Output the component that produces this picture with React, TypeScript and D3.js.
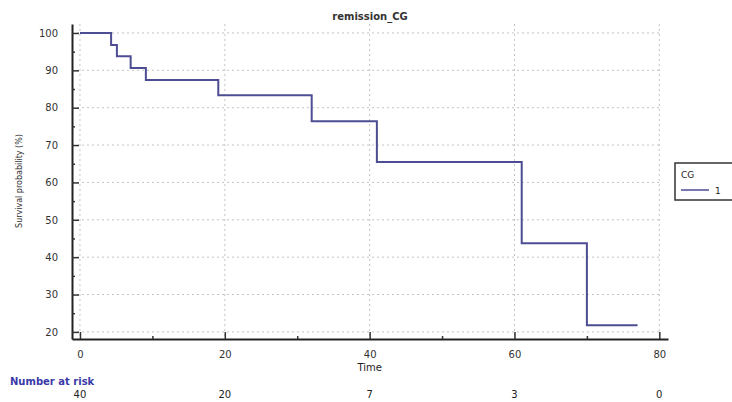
import React, { useEffect, useRef } from 'react';
import * as d3 from 'd3';

// survival step points (time, survival %)
const stepTimes = [0, 4.3, 5.1, 7.0, 9.1, 19.1, 32, 41, 61, 70];
const stepSurvival = [100, 96.8, 93.8, 90.6, 87.4, 83.3, 76.4, 65.5, 43.7, 21.8];
const lastTime = 77;

const xTicks = [0, 20, 40, 60, 80];
const yTicks = [20, 30, 40, 50, 60, 70, 80, 90, 100];
const atRisk = [40, 20, 7, 3, 0];

const App = () => {
  const ref = useRef<SVGSVGElement>(null);

  useEffect(() => {
    const svg = d3.select(ref.current);
    svg.selectAll('*').remove();

    const width = 732;
    const height = 402;
    const font = 'DejaVu Sans, sans-serif';

    const x = d3.scaleLinear().domain([-1.1, 81.2]).range([72, 668]);
    const y = d3.scaleLinear().domain([18.1, 102.4]).range([339, 24]);

    svg.append('rect').attr('width', width).attr('height', height).attr('fill', 'white');

    // grid
    const grid = svg.append('g').attr('stroke', '#c4c4c4').attr('stroke-dasharray', '2,3').attr('stroke-width', 1);
    grid.selectAll('.gx')
      .data(xTicks)
      .enter()
      .append('line')
      .attr('x1', (d) => x(d)).attr('x2', (d) => x(d))
      .attr('y1', y(102.4)).attr('y2', y(18.1));
    grid.selectAll('.gy')
      .data(yTicks)
      .enter()
      .append('line')
      .attr('x1', x(-1.1)).attr('x2', x(80))
      .attr('y1', (d) => y(d)).attr('y2', (d) => y(d));

    // x axis
    const xAxis = d3.axisBottom(x).tickValues(xTicks).tickSizeInner(-7).tickSizeOuter(0).tickPadding(12);
    const gx = svg.append('g').attr('transform', `translate(0,${y(18.1)})`).call(xAxis);
    const xMinor = d3.axisBottom(x).tickValues([10, 30, 50, 70]).tickSize(-3).tickFormat(() => '');
    svg.append('g').attr('transform', `translate(0,${y(18.1)})`).call(xMinor).select('.domain').remove();

    // y axis
    const yAxis = d3.axisLeft(y).tickValues(yTicks).tickSizeInner(-7).tickSizeOuter(0).tickPadding(14);
    const gy = svg.append('g').attr('transform', `translate(${x(-1.1)},0)`).call(yAxis);
    const yMinor = d3.axisLeft(y).tickValues([25, 35, 45, 55, 65, 75, 85, 95]).tickSize(-3).tickFormat(() => '');
    svg.append('g').attr('transform', `translate(${x(-1.1)},0)`).call(yMinor).select('.domain').remove();

    [gx, gy].forEach((g) => {
      g.select('.domain').attr('stroke', '#222').attr('stroke-width', 2);
      g.selectAll('.tick text').style('font-family', font).style('font-size', '10px').attr('fill', '#333');
    });
    svg.selectAll('.tick line').attr('stroke', '#333').attr('stroke-width', 1.5);

    // survival curve
    const pts: [number, number][] = stepTimes.map((t, i) => [t, stepSurvival[i]]);
    pts.push([lastTime, stepSurvival[stepSurvival.length - 1]]);
    const line = d3.line<[number, number]>()
      .x((d) => x(d[0]))
      .y((d) => y(d[1]))
      .curve(d3.curveStepAfter);
    svg.append('path')
      .datum(pts)
      .attr('d', line)
      .attr('fill', 'none')
      .attr('stroke', '#4d4d94')
      .attr('stroke-width', 2);

    // titles
    svg.append('text')
      .attr('x', 370).attr('y', 20)
      .attr('text-anchor', 'middle')
      .style('font-family', font).style('font-size', '10px').style('font-weight', 'bold')
      .attr('fill', '#333')
      .text('remission_CG');

    svg.append('text')
      .attr('x', x(40)).attr('y', 371)
      .attr('text-anchor', 'middle')
      .style('font-family', font).style('font-size', '10px')
      .attr('fill', '#222')
      .text('Time');

    svg.append('text')
      .attr('transform', `translate(22,181) rotate(-90)`)
      .attr('text-anchor', 'middle')
      .style('font-family', font).style('font-size', '8px')
      .attr('fill', '#333')
      .text('Survival probability (%)');

    // number at risk
    svg.append('text')
      .attr('x', 10).attr('y', 385)
      .style('font-family', font).style('font-size', '10px').style('font-weight', 'bold')
      .attr('fill', '#3a3aa8')
      .text('Number at risk');
    svg.selectAll('.risk')
      .data(atRisk)
      .enter()
      .append('text')
      .attr('x', (d, i) => x(xTicks[i]))
      .attr('y', 398)
      .attr('text-anchor', 'middle')
      .style('font-family', font).style('font-size', '10px')
      .attr('fill', '#222')
      .text((d) => d);

    // legend
    const lg = svg.append('g').attr('transform', 'translate(675,163)');
    lg.append('rect').attr('width', 70).attr('height', 37).attr('fill', 'white').attr('stroke', '#333').attr('stroke-width', 1.5);
    lg.append('text').attr('x', 6).attr('y', 15)
      .style('font-family', font).style('font-size', '9px').attr('fill', '#222').text('CG');
    lg.append('line').attr('x1', 6).attr('x2', 34).attr('y1', 27).attr('y2', 27)
      .attr('stroke', '#4d4d94').attr('stroke-width', 1.5);
    lg.append('text').attr('x', 40).attr('y', 31)
      .style('font-family', font).style('font-size', '9px').attr('fill', '#222').text('1');
  }, []);

  return (
    <svg ref={ref} width={732} height={402} style={{ position: 'absolute', left: 0, top: 0 }} />
  );
};

export default App;
